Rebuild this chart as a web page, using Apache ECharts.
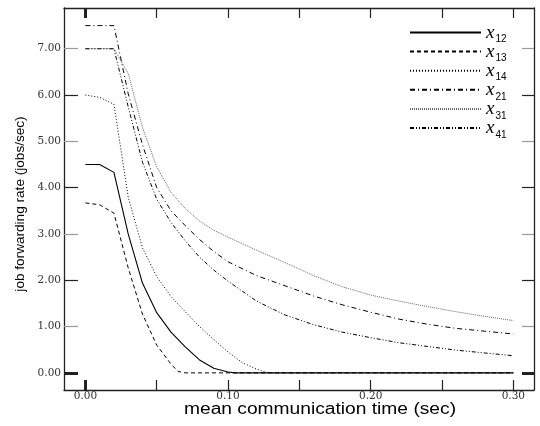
<!DOCTYPE html>
<html><head><meta charset="utf-8">
<script src="https://cdn.jsdelivr.net/npm/echarts@6/dist/echarts.min.js"></script>
<style>html,body{margin:0;padding:0;background:#fff}#c{width:540px;height:426px}</style>
</head><body><div id="c"></div>
<script>
// ---- data ----
const seriesNames = ['12', '13', '14', '21', '31', '41'];
const x12 = [[0,4.5],[0.01,4.5],[0.02,4.33],[0.03,3.0],[0.04,1.94],[0.05,1.3],[0.06,0.88],[0.07,0.56],[0.08,0.28],[0.09,0.1],[0.10,0.02],[0.105,0],[0.30,0]];
const x13 = [[0,3.67],[0.01,3.63],[0.02,3.45],[0.03,2.27],[0.04,1.27],[0.05,0.6],[0.06,0.19],[0.065,0.03],[0.07,0],[0.30,0]];
const x14 = [[0,6.0],[0.01,5.95],[0.02,5.8],[0.03,3.8],[0.04,2.7],[0.05,2.08],[0.06,1.65],[0.07,1.32],[0.08,1.0],[0.09,0.72],[0.10,0.45],[0.11,0.22],[0.12,0.08],[0.127,0.01],[0.13,0],[0.30,0]];
const x21 = [[0,7.5],[0.01,7.5],[0.02,7.5],[0.03,6.03],[0.04,4.93],[0.05,4.0],[0.06,3.5],[0.07,3.18],[0.08,2.88],[0.09,2.62],[0.10,2.4],[0.12,2.1],[0.14,1.88],[0.16,1.66],[0.18,1.47],[0.20,1.31],[0.22,1.16],[0.24,1.05],[0.26,0.96],[0.28,0.9],[0.30,0.84]];
const x31 = [[0,7.0],[0.01,7.0],[0.02,7.0],[0.03,6.47],[0.04,5.3],[0.05,4.45],[0.06,3.9],[0.07,3.55],[0.08,3.28],[0.09,3.08],[0.10,2.93],[0.12,2.65],[0.14,2.38],[0.16,2.1],[0.18,1.86],[0.20,1.68],[0.22,1.55],[0.24,1.43],[0.26,1.32],[0.28,1.22],[0.30,1.13]];
const x41 = [[0,7.0],[0.01,7.0],[0.02,7.0],[0.03,5.75],[0.04,4.55],[0.05,3.75],[0.06,3.25],[0.07,2.85],[0.08,2.5],[0.09,2.22],[0.10,1.98],[0.12,1.55],[0.14,1.25],[0.16,1.04],[0.18,0.88],[0.20,0.76],[0.22,0.65],[0.24,0.57],[0.26,0.49],[0.28,0.43],[0.30,0.37]];
const xTickLabels = [0, 0.10, 0.20, 0.30];
const xTicks = [0.05, 0.10, 0.15, 0.20, 0.25, 0.30];
const yTickLabels = [0, 1, 2, 3, 4, 5, 6, 7];
const yTicksBlack = [2, 4, 6];
const yTicksGray = [1, 3, 5, 7];
const xTitle = 'mean communication time (sec)';
const yTitle = 'job forwarding rate (jobs/sec)';

// ---- layout ----
const XMIN = -0.015, XMAX = 0.3145, YMIN = -0.37, YMAX = 7.88;
const labelFont = {fontFamily: 'DejaVu Serif', fontSize: 10.5, color: '#333'};

function xa(pos, ticks, opt) {
  opt = opt || {};
  return {
    type: 'value', min: XMIN, max: XMAX, position: pos,
    axisLine: {show: !!opt.line, onZero: false, lineStyle: {color: '#222', width: 1.3}},
    axisTick: {show: true, inside: true, length: 10, customValues: ticks,
      lineStyle: {color: opt.color || '#222', width: opt.w || 1.2}},
    axisLabel: opt.labels ? Object.assign({show: true, margin: 1, customValues: opt.labels,
      formatter: v => v.toFixed(2)}, labelFont) : {show: false},
    splitLine: {show: false}
  };
}
function ya(pos, ticks, opt) {
  opt = opt || {};
  return {
    type: 'value', min: YMIN, max: YMAX, position: pos,
    axisLine: {show: !!opt.line, onZero: false, lineStyle: {color: '#222', width: 1.3}},
    axisTick: {show: true, inside: true, length: pos === 'left' ? 14 : 12, customValues: ticks,
      lineStyle: {color: opt.color || '#222', width: opt.w || 1.2}},
    axisLabel: opt.labels ? Object.assign({show: true, margin: 3, customValues: opt.labels,
      formatter: v => v.toFixed(2)}, labelFont) : {show: false},
    splitLine: {show: false}
  };
}

const styles = {
  '12': {type: 'solid', color: '#000', width: 1.1},
  '13': {type: [4, 3], color: '#000', width: 1},
  '14': {type: [1, 2], color: '#000', width: 1},
  '21': {type: [5, 3, 1, 3], color: '#000', width: 1},
  '31': {type: [1, 1], color: '#666', width: 1},
  '41': {type: [4, 2, 1, 2, 1, 2], color: '#000', width: 1}
};
const dataMap = {'12': x12, '13': x13, '14': x14, '21': x21, '31': x31, '41': x41};

const option = {
  animation: false,
  backgroundColor: '#fff',
  grid: {left: 64, right: 6, top: 8, bottom: 36, containLabel: false, outerBoundsMode: 'none'},
  xAxis: [
    xa('bottom', xTicks, {line: true, labels: xTickLabels}),
    xa('bottom', [0], {w: 3}),
    xa('top', xTicks, {line: true}),
    xa('top', [0], {w: 3})
  ],
  yAxis: [
    ya('left', yTicksBlack, {line: true, labels: yTickLabels}),
    ya('left', yTicksGray, {color: '#999'}),
    ya('left', [0], {w: 3}),
    ya('right', yTicksBlack, {line: true}),
    ya('right', yTicksGray, {color: '#999'}),
    ya('right', [0], {w: 3})
  ],
  legend: {
    orient: 'vertical', left: 404, top: 18, itemWidth: 71, itemHeight: 13, itemGap: -2.4,
    itemStyle: {opacity: 0},
    data: seriesNames.map(n => ({name: n})),
    formatter: n => '{x|x}{s|' + n + '}',
    textStyle: {
      rich: {
        x: {fontFamily: 'Liberation Serif', fontStyle: 'italic', fontSize: 19, color: '#000', lineHeight: 14},
        s: {fontFamily: 'Liberation Sans', fontSize: 10, color: '#000', verticalAlign: 'bottom', lineHeight: 14, padding: [0, 0, -5, 1]}
      }
    }
  },
  series: seriesNames.map(n => ({
    name: n, type: 'line', data: dataMap[n], xAxisIndex: 0, yAxisIndex: 0,
    symbol: 'none', showSymbol: false, lineStyle: styles[n], itemStyle: {color: styles[n].color},
    emphasis: {disabled: true}
  })),
  graphic: [
    {type: 'text', x: 20, y: 204, rotation: Math.PI / 2,
      style: {text: yTitle, align: 'center', verticalAlign: 'middle',
        font: '13.6px "Liberation Sans", sans-serif', fill: '#000'}},
    {type: 'text', x: 320, y: 410, scaleX: 1.2,
      style: {text: xTitle, align: 'center', verticalAlign: 'middle',
        font: '16px "Liberation Sans", sans-serif', fill: '#000'}}
  ]
};
const chart = echarts.init(document.getElementById('c'), null, {renderer: 'canvas'});
chart.setOption(option);
</script></body></html>
